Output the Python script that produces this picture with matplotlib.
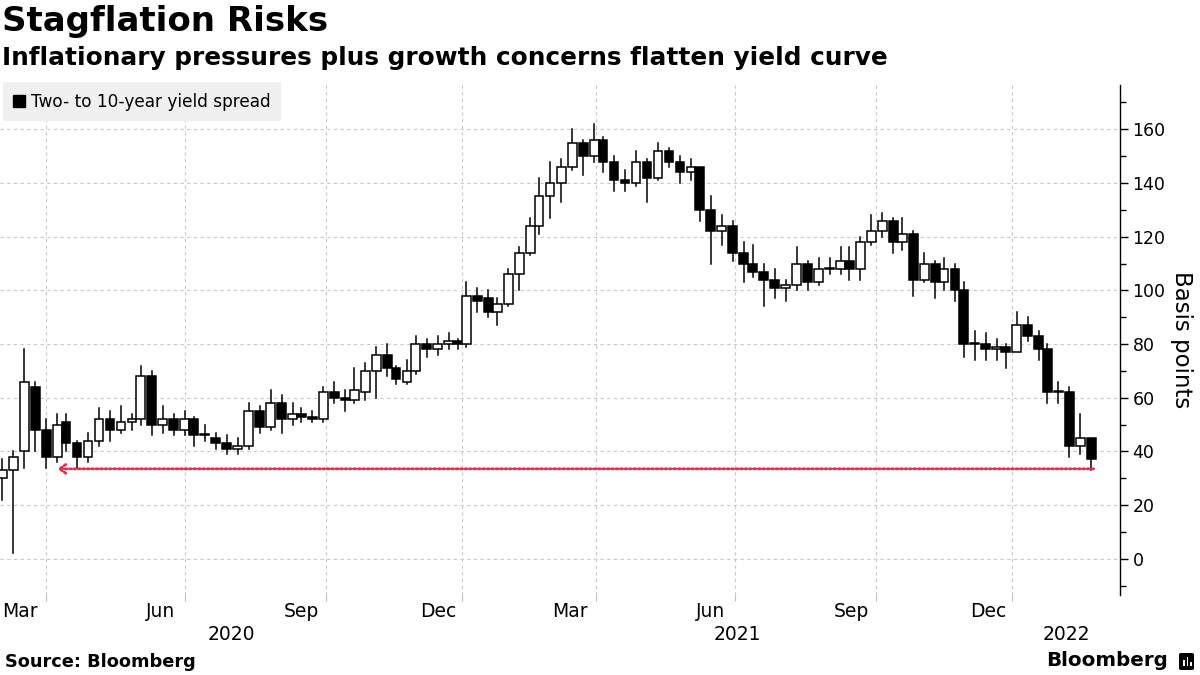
import numpy as np
import pandas as pd
import matplotlib.pyplot as plt
from matplotlib.lines import Line2D
from matplotlib.patches import Rectangle, FancyBboxPatch
import matplotlib.transforms as mtransforms

plt.rcParams['font.family'] = ['DejaVu Sans']

# weekly candles (week starting Monday 2020-03-02), basis points
week_open = [30, 33, 40, 64, 48, 38, 51, 43, 38, 44,
             52, 48, 51, 52, 68, 50, 52, 48, 52, 46,
             45, 43, 41, 42, 55, 49, 58, 52, 54, 53,
             52, 62, 60, 59, 62, 70, 76, 71, 66, 70,
             80, 78, 80, 81, 80, 98, 97, 92, 95, 106,
             114, 124, 135, 140, 146, 155, 150, 156, 148, 141,
             140, 148, 142, 152, 148, 144, 146, 130, 122, 124,
             114, 110, 107, 104, 101, 102, 110, 103, 108, 108,
             111, 108, 118, 122, 126, 118, 121, 104, 110, 103,
             108, 100, 80, 80, 78, 79, 77, 87, 83, 78,
             62, 62, 42, 45]
week_high = [37, 40, 78, 66, 52, 54, 54, 44, 47, 56,
             55, 57, 54, 72, 70, 57, 54, 55, 53, 50,
             47, 46, 45, 58, 57, 63, 61, 58, 56, 55,
             64, 66, 63, 71, 73, 79, 80, 72, 74, 83,
             82, 83, 84, 82, 103, 101, 100, 97, 108, 116,
             127, 142, 148, 149, 160, 156, 162, 157, 150, 145,
             152, 149, 155, 153, 150, 149, 146, 135, 128, 126,
             118, 117, 110, 108, 104, 116, 111, 112, 112, 116,
             116, 120, 128, 129, 127, 127, 122, 114, 111, 112,
             110, 103, 85, 84, 82, 80, 92, 90, 85, 80,
             66, 64, 54, 45]
week_low = [22, 2, 34, 40, 34, 36, 40, 34, 36, 42,
            44, 47, 48, 50, 46, 47, 46, 46, 42, 44,
            41, 39, 39, 41, 47, 48, 47, 50, 51, 51,
            51, 58, 55, 58, 59, 60, 68, 65, 65, 69,
            75, 76, 78, 78, 79, 92, 90, 87, 94, 100,
            113, 121, 127, 133, 145, 143, 148, 144, 137, 137,
            139, 133, 141, 146, 140, 141, 126, 110, 117, 111,
            103, 105, 94, 97, 96, 100, 100, 102, 106, 106,
            104, 104, 117, 120, 114, 115, 98, 103, 97, 100,
            96, 75, 74, 74, 74, 71, 77, 81, 74, 58,
            58, 38, 39, 33]
week_close = [33, 38, 66, 48, 38, 50, 43, 38, 44, 52,
              48, 51, 52, 68, 50, 52, 48, 52, 46, 46,
              43, 41, 42, 55, 49, 58, 52, 54, 53, 52,
              62, 60, 59, 63, 70, 76, 71, 67, 70, 80,
              78, 80, 81, 80, 98, 96, 92, 95, 106, 114,
              124, 135, 140, 146, 155, 150, 156, 148, 141, 140,
              148, 142, 152, 148, 144, 146, 130, 122, 124, 114,
              110, 107, 104, 101, 102, 110, 103, 108, 108, 111,
              108, 118, 122, 126, 118, 121, 104, 110, 103, 108,
              100, 80, 80, 78, 79, 77, 87, 83, 78, 62,
              62, 42, 45, 37]

month_labels = ['Mar', 'Jun', 'Sep', 'Dec', 'Mar', 'Jun', 'Sep', 'Dec']
month_dates = ['2020-03-16', '2020-06-16', '2020-09-16', '2020-12-16',
               '2021-03-16', '2021-06-16', '2021-09-16', '2021-12-16']
quarter_dates = ['2020-04-01', '2020-07-01', '2020-10-01', '2021-01-01',
                 '2021-04-01', '2021-07-01', '2021-10-01', '2022-01-01']
year_labels = ['2020', '2021', '2022']
year_dates = ['2021-01-01', '2022-01-01']

# bond market holidays -> trading-day axis like the terminal chart
holidays = ['2020-04-10', '2020-05-25', '2020-07-03', '2020-09-07', '2020-10-12',
            '2020-11-11', '2020-11-26', '2020-12-25', '2021-01-01', '2021-01-18',
            '2021-02-15', '2021-04-02', '2021-05-31', '2021-07-05', '2021-09-06',
            '2021-10-11', '2021-11-11', '2021-11-25', '2021-12-24', '2022-01-17',
            '2022-02-21']
START = '2020-03-02'


def bday(d):
    d = np.asarray(d, dtype='datetime64[D]')
    return np.busday_count(START, d, holidays=holidays)


mondays = pd.date_range(START, periods=len(week_open), freq='7D').values.astype('datetime64[D]')
x = bday(mondays) + 2.0

fig = plt.figure(figsize=(12, 6.75), dpi=100)
ax = fig.add_axes([0.0, 1 - 595 / 675, 1120 / 1200, 510 / 675])

# candles
w = 4.0
for xi, o, h, l, c in zip(x, week_open, week_high, week_low, week_close):
    lo, hi = min(o, c), max(o, c)
    ax.plot([xi, xi], [l, lo], color='black', lw=1.1, zorder=3)
    ax.plot([xi, xi], [hi, h], color='black', lw=1.1, zorder=3)
    fc = 'white' if c > o else 'black'
    ax.add_patch(Rectangle((xi - w / 2, lo), w, max(hi - lo, 0.4), facecolor=fc,
                           edgecolor='black', lw=1.1, zorder=4))

# dotted red line back to the March 2020 level
level = week_low[-1]
ax.annotate('', xy=(x[4] + 5, level + 0.5), xytext=(x[-1] + 1, level + 0.5),
            arrowprops=dict(arrowstyle='->,head_length=0.45,head_width=0.32',
                            color='#e0304e', lw=2.0, linestyle=(0, (0.7, 0.9)),
                            shrinkA=0, shrinkB=0), zorder=5)

ax.set_xlim(1, 510)
ax.set_ylim(-13.5, 176.5)

for s in ['left', 'top', 'bottom']:
    ax.spines[s].set_visible(False)
ax.spines['right'].set_linewidth(1.0)

ax.yaxis.tick_right()
ax.yaxis.set_label_position('right')
ax.set_yticks(range(0, 161, 20))
ax.set_yticks(range(-10, 171, 20), minor=True)
ax.tick_params(axis='y', which='major', length=6, width=1, pad=3, labelsize=12.5)
ax.tick_params(axis='y', which='minor', length=4, width=1)
ax.set_ylabel('Basis points', rotation=270, fontsize=16.5, labelpad=20)

ax.set_xticks(bday(quarter_dates))
ax.set_xticklabels([])
ax.set_xticks(bday(month_dates), minor=True)
ax.set_xticklabels(month_labels, minor=True)
ax.tick_params(axis='x', which='major', length=4, width=0.8, color='#bbbbbb')
ax.tick_params(axis='x', which='minor', length=0, pad=5, labelsize=13.5)

ax.grid(axis='both', which='major', color='#c8c8c8', lw=0.8, linestyle=(0, (3, 3)), zorder=0)

# year labels centred on each year's span
yb = [ax.get_xlim()[0]] + list(bday(year_dates)) + [ax.get_xlim()[1]]
trans = mtransforms.blended_transform_factory(ax.transData, ax.transAxes)
for i, lab in enumerate(year_labels):
    ax.text((yb[i] + yb[i + 1]) / 2, -0.077, lab, transform=trans, ha='center',
            va='center', fontsize=13.5)

handle = Line2D([], [], marker='s', color='black', linestyle='none', markersize=9)
ax.legend([handle], ['Two- to 10-year yield spread'], loc='upper left',
          bbox_to_anchor=(0.0, 1.01), frameon=True, fancybox=False, facecolor='#f0f0f0',
          edgecolor='none', framealpha=1, fontsize=12.2, handlelength=0.8,
          handletextpad=0.3, borderpad=0.6, borderaxespad=0.15)

fig.text(0.002, 1 - 5 / 675, 'Stagflation Risks', va='top', ha='left', fontsize=24.5,
         weight='bold')
fig.text(0.002, 1 - 46 / 675, 'Inflationary pressures plus growth concerns flatten yield curve',
         va='top', ha='left', fontsize=17.8, weight='bold')
fig.text(0.004, 1 - 662 / 675, 'Source: Bloomberg', va='center', ha='left', fontsize=12.8,
         weight='bold')
fig.text(1168 / 1200, 1 - 661 / 675, 'Bloomberg', va='center', ha='right', fontsize=14.3,
         weight='bold')
fig.patches.append(FancyBboxPatch((1179 / 1200, 1 - 670 / 675), 15 / 1200, 17 / 675,
                                  boxstyle='round,pad=0,rounding_size=0.002',
                                  transform=fig.transFigure, facecolor='black',
                                  edgecolor='none'))
for bx, bh in [(1183, 6), (1186.5, 9), (1190, 4)]:
    fig.patches.append(Rectangle((bx / 1200, 1 - 666 / 675), 1.8 / 1200, bh / 675,
                                 transform=fig.transFigure, facecolor='white',
                                 edgecolor='none'))

fig.savefig('out.png', dpi=100)
